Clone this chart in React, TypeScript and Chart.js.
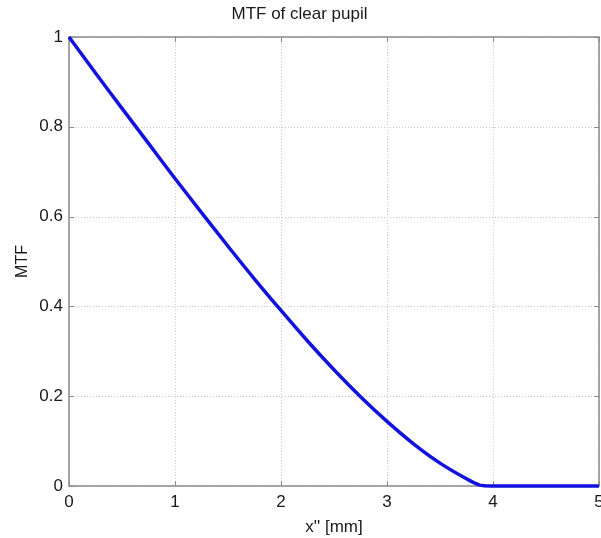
import React, { useEffect, useRef } from "react";
import { Chart, registerables } from "chart.js";

Chart.register(...registerables);

const xValues = [0, 0.25, 0.5, 0.75, 1.0, 1.25, 1.5, 1.75, 2.0, 2.25, 2.5, 2.75, 3.0, 3.25, 3.5, 3.75, 3.875, 4.0, 4.25, 4.5, 4.75, 5.0];
const mtfValues = [1.0, 0.92, 0.841, 0.763, 0.685, 0.609, 0.534, 0.461, 0.391, 0.323, 0.259, 0.199, 0.144, 0.094, 0.051, 0.016, 0.002, 0, 0, 0, 0, 0];
const xTicks = [0, 1, 2, 3, 4, 5];
const yTicks = [0, 0.2, 0.4, 0.6, 0.8, 1];

const titleText = "MTF of clear pupil";
const xLabel = "x'' [mm]";
const yLabel = "MTF";

const FONT = "'Liberation Sans', Arial, Helvetica, sans-serif";

const boxPlugin = {
  id: "matlabBox",
  beforeDatasetsDraw(chart: any) {
    const { ctx, chartArea: a, scales } = chart;
    const xs = scales.x;
    const ys = scales.y;
    ctx.save();
    // dotted grid
    ctx.strokeStyle = "#c8c8c8";
    ctx.lineWidth = 1;
    ctx.setLineDash([1, 2]);
    xTicks.forEach((t) => {
      const px = Math.round(xs.getPixelForValue(t)) + 0.5;
      ctx.beginPath();
      ctx.moveTo(px, a.top);
      ctx.lineTo(px, a.bottom);
      ctx.stroke();
    });
    yTicks.forEach((t) => {
      const py = Math.round(ys.getPixelForValue(t)) + 0.5;
      ctx.beginPath();
      ctx.moveTo(a.left, py);
      ctx.lineTo(a.right, py);
      ctx.stroke();
    });
    ctx.setLineDash([]);
    // inward ticks
    ctx.strokeStyle = "#8a8a8a";
    const L = 5;
    xTicks.forEach((t) => {
      const px = Math.round(xs.getPixelForValue(t)) + 0.5;
      ctx.beginPath();
      ctx.moveTo(px, a.bottom);
      ctx.lineTo(px, a.bottom - L);
      ctx.moveTo(px, a.top);
      ctx.lineTo(px, a.top + L);
      ctx.stroke();
    });
    yTicks.forEach((t) => {
      const py = Math.round(ys.getPixelForValue(t)) + 0.5;
      ctx.beginPath();
      ctx.moveTo(a.left, py);
      ctx.lineTo(a.left + L, py);
      ctx.moveTo(a.right, py);
      ctx.lineTo(a.right - L, py);
      ctx.stroke();
    });
    // box
    ctx.strokeStyle = "#8a8a8a";
    ctx.lineWidth = 1.5;
    ctx.strokeRect(a.left, a.top, a.right - a.left, a.bottom - a.top);
    ctx.restore();
  },
};

export default function App() {
  const ref = useRef<HTMLCanvasElement>(null);

  useEffect(() => {
    if (!ref.current) return;
    const chart = new Chart(ref.current, {
      type: "line",
      data: {
        datasets: [
          {
            data: xValues.map((x, i) => ({ x, y: mtfValues[i] })),
            borderColor: "rgb(18,18,222)",
            borderWidth: 3.5,
            pointRadius: 0,
            tension: 0.3,
            fill: false,
            clip: 4,
          },
        ],
      },
      options: {
        responsive: false,
        animation: false,
        devicePixelRatio: 1,
        layout: { padding: { top: 0, left: 0, right: 2, bottom: 0 } },
        plugins: {
          legend: { display: false },
          tooltip: { enabled: false },
          title: {
            display: true,
            text: titleText,
            color: "#1a1a1a",
            font: { family: FONT, size: 17, weight: "normal" },
            padding: { top: 4, bottom: 12.6 },
          },
        },
        scales: {
          x: {
            type: "linear",
            min: 0,
            max: 5,
            afterBuildTicks: (s: any) => {
              s.ticks = xTicks.map((v) => ({ value: v }));
            },
            afterFit: (s: any) => {
              s.height = 52;
              s.paddingLeft = 0;
              s.paddingRight = 0;
            },
            grid: { display: false, drawTicks: false },
            border: { display: false },
            ticks: {
              color: "#1a1a1a",
              padding: 6,
              maxRotation: 0,
              autoSkip: false,
              font: { family: FONT, size: 17 },
              callback: (v: any) => String(v),
            },
            title: {
              display: true,
              text: xLabel,
              color: "#1a1a1a",
              font: { family: FONT, size: 17 },
              padding: { top: 2.4, bottom: 0 },
            },
          },
          y: {
            type: "linear",
            min: 0,
            max: 1,
            afterBuildTicks: (s: any) => {
              s.ticks = yTicks.map((v) => ({ value: v }));
            },
            afterFit: (s: any) => {
              s.width = 69;
              s.paddingTop = 0;
              s.paddingBottom = 0;
            },
            grid: { display: false, drawTicks: false },
            border: { display: false },
            ticks: {
              color: "#1a1a1a",
              padding: 6,
              autoSkip: false,
              font: { family: FONT, size: 17 },
              callback: (v: any) => String(Math.round(v * 10) / 10),
            },
            title: {
              display: true,
              text: yLabel,
              color: "#1a1a1a",
              font: { family: FONT, size: 16 },
              padding: { top: 12.8, bottom: 0 },
            },
          },
        },
      },
      plugins: [boxPlugin],
    });
    return () => chart.destroy();
  }, []);

  return (
    <div style={{ position: "absolute", left: 0, top: 0, width: 601, height: 538, background: "#fff" }}>
      <canvas ref={ref} width={601} height={538} style={{ display: "block" }} />
    </div>
  );
}
